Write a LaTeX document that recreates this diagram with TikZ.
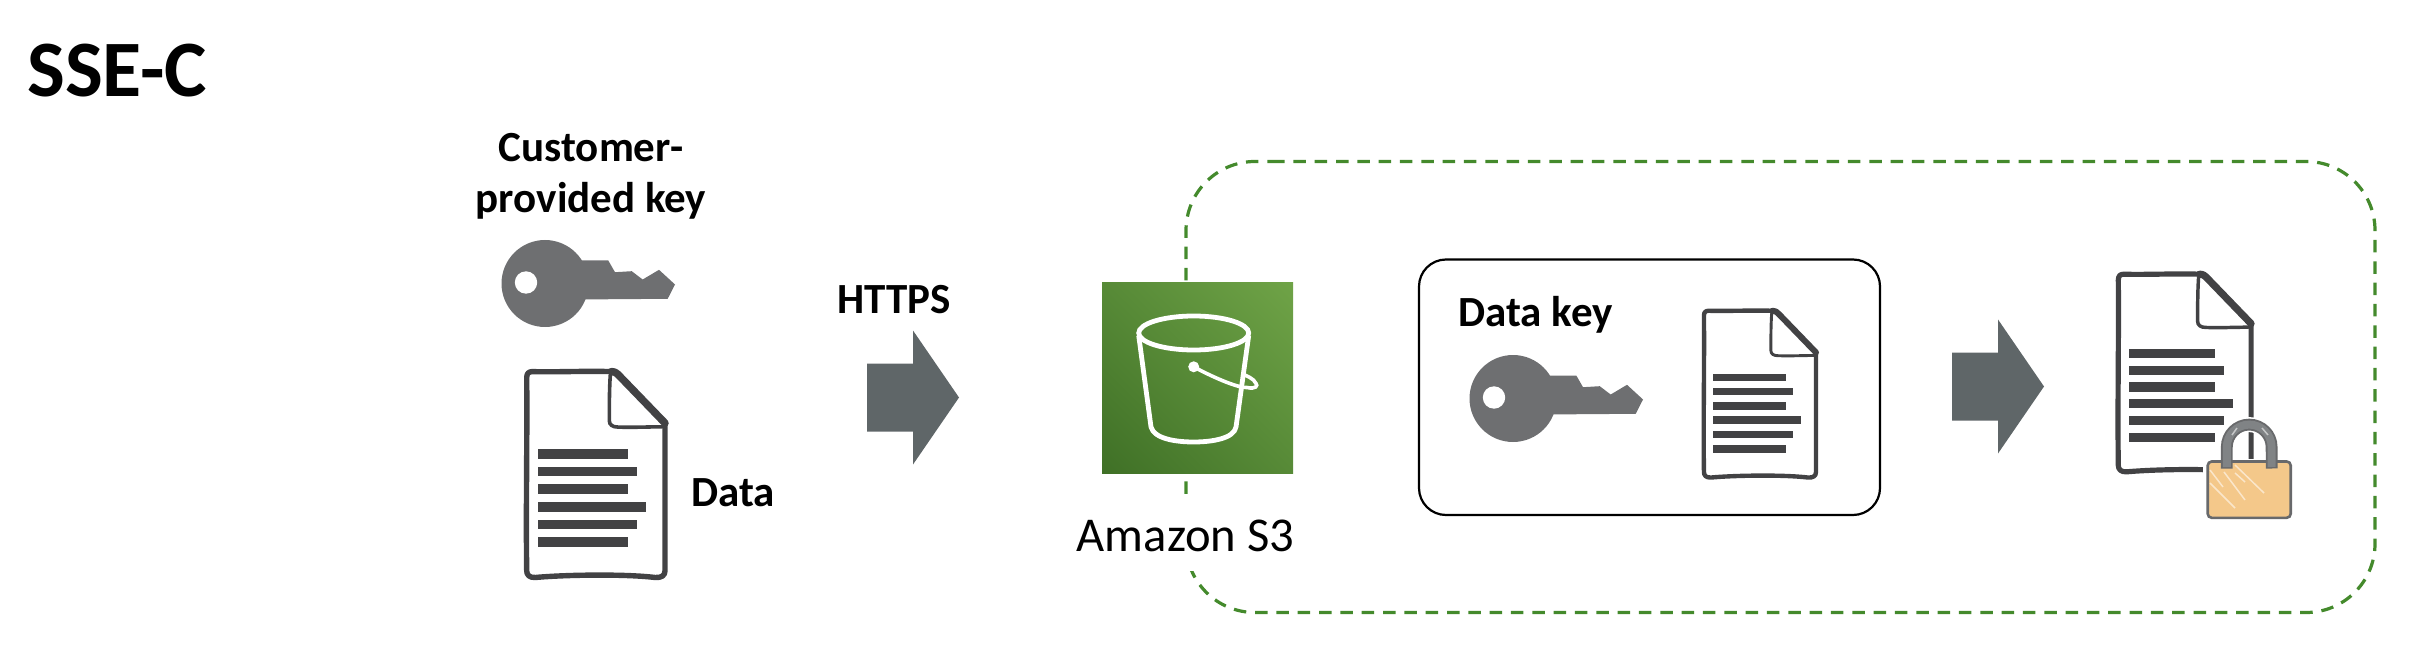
\documentclass[tikz,border=0pt]{standalone}
\usepackage{fontspec}
\usetikzlibrary{shadings}
\setmainfont{Carlito}
\definecolor{docgray}{HTML}{424244}
\definecolor{keygray}{HTML}{6E6F71}
\definecolor{arrowgray}{HTML}{5F6668}
\definecolor{dashgreen}{HTML}{448A2C}
\definecolor{bucketlow}{HTML}{3F7026}
\definecolor{bucketmid}{HTML}{578A37}
\definecolor{buckethigh}{HTML}{6FA347}
\definecolor{lockfill}{HTML}{F4C88A}
\definecolor{lockedge}{HTML}{68696B}
\definecolor{shackle}{HTML}{808385}
\tikzset{
  boldlabel/.style={font=\bfseries\fontsize{43}{51}\selectfont,inner sep=0pt,text=black,anchor=base west},
  flowarrow/.style={fill=arrowgray,draw=none},
  bar/.style={fill=docgray,draw=none},
  docline/.style={draw=docgray,line cap=round,line join=round}
}
\newcommand{\keyicon}[2]{%
  \begin{scope}[shift={(#1,#2)}]
    \fill[keygray] (0,0) circle [radius=43.5pt];
    \fill[keygray] (30,-23) -- (63.3,-23) -- (70,-11.3) -- (86.7,-12.3) -- (97.7,-4) -- (114,-13.7) -- (130,1) -- (122.7,15.3) -- (30,16) -- cycle;
    \fill[white] (-19,-1) circle [radius=11.2pt];
  \end{scope}}
\newcommand{\docicon}[3]{%
  \begin{scope}[shift={(#1,#2)},scale=#3]
    \pgfmathsetmacro{\lwa}{5.4*#3}\pgfmathsetmacro{\lwb}{7.5*#3}\pgfmathsetmacro{\lwc}{3.6*#3}
    \draw[docline,line width=\lwa pt] (87,2.8) .. controls (60,2) and (30,3.5) .. (8,2.8) .. controls (4,2.8) and (2.4,5) .. (2.4,9)
       .. controls (3,70) and (1.5,140) .. (2.4,202) .. controls (2.4,206) and (5,209) .. (11,208.7)
       .. controls (40,206) and (100,205) .. (131,208.7) .. controls (137,209) and (140.7,207) .. (140.7,202)
       -- (140.7,54.3);
    \draw[docline,line width=\lwb pt] (87,2.8) .. controls (91,3) and (92,4) .. (95,7) -- (140.7,54.3);
    \draw[docline,line width=\lwc pt] (86,6) .. controls (85,20) and (85,40) .. (85,51.7) .. controls (85,56) and (88,58.3) .. (94,58.3) .. controls (110,58.8) and (125,58) .. (138,58);
    \foreach \yy/\xx in {85/103.3,102.7/112.7,120.3/103.3,138/122,155.7/112.7,173.3/103.3}
      \fill[bar] (14,\yy-4.7) rectangle (\xx,\yy+4.7);
  \end{scope}}
\begin{document}
\begin{tikzpicture}[x=1pt,y=-1pt]
\useasboundingbox (0,0) rectangle (2420,660);
% dashed boundary
\draw[dashgreen,line width=3.2pt,dash pattern=on 12.5pt off 8.83pt,rounded corners=69pt]
  (1272,161.5) -- (2375,161.5) -- (2375,612.5) -- (1186,612.5) -- (1186,161.5) -- (1272,161.5);
% title and labels
\node[boldlabel,font=\bfseries\fontsize{80}{90}\selectfont] (title) at (27,96.5) {SSE-C};
\node[boldlabel,anchor=base] (cust1) at (591,162) {Customer-};
\node[boldlabel,anchor=base] (cust2) at (591,213) {provided key};
\node[boldlabel] (datalabel) at (691,506) {Data};
\node[boldlabel,anchor=base] (https) at (894,313) {HTTPS};
% first group
\keyicon{545}{283.5}
\docicon{524.3}{368.8}{1}
% arrows
\fill[flowarrow] (867,363.5) -- (913,363.5) -- (913,330.5) -- (959,397.5) -- (913,464.5) -- (913,431.5) -- (867,431.5) -- cycle;
\fill[flowarrow] (1952,352.5) -- (1998,352.5) -- (1998,319.5) -- (2044,386.5) -- (1998,453.5) -- (1998,420.5) -- (1952,420.5) -- cycle;
% S3 icon
\shade[lower left=bucketlow,upper right=buckethigh,upper left=bucketmid,lower right=bucketmid] (1102,282.5) rectangle (1293,473.5);
\draw[white,line width=4.8pt] (1193.7,333) ellipse [x radius=55pt,y radius=17pt];
\draw[white,line width=4.8pt,line join=round] (1138.7,335.5) -- (1151,427) .. controls (1154,438.5) and (1175,442) .. (1193.7,442) .. controls (1212,442) and (1234,438.5) .. (1236,427) -- (1248.7,335.5);
\fill[white] (1193.7,366.8) circle [radius=5.5pt];
\draw[white,line width=3.6pt] (1193.7,366.8) .. controls (1215,378.5) and (1240,388.5) .. (1247,387.5) .. controls (1256,389.5) and (1258,385.5) .. (1256,383.5) .. controls (1254,378.5) and (1246,375.5) .. (1242,374);
\fill[white] (1072,495) rectangle (1297,571);
\node[inner sep=0pt,anchor=base,font=\fontsize{48.6}{56}\selectfont] (s3label) at (1185.5,551) {Amazon S3};
% data key box
\draw[black,line width=2.2pt,rounded corners=27pt] (1419,259.5) rectangle (1880,515);
\node[boldlabel] (datakey) at (1458,326.5) {Data key};
\keyicon{1513}{398.5}
\docicon{1702}{308.5}{0.81}
% encrypted doc
\docicon{2116}{271.5}{0.96}
\fill[white] (2203,458.5) rectangle (2296,523);
\draw[white,line width=15pt] (2226.8,462.5) -- (2226.8,447) arc (180:0:22.4pt) -- (2271.7,462.5);
\draw[fill=lockfill,draw=lockedge,line width=2.6pt,rounded corners=4pt] (2207.7,461.5) rectangle (2290.7,517.8);
\draw[lockedge,line width=11.8pt] (2226.8,468.5) -- (2226.8,447) arc (180:0:22.4pt) -- (2271.7,468.5);
\draw[shackle,line width=8pt] (2226.8,467) -- (2226.8,447) arc (180:0:22.4pt) -- (2271.7,467);
\foreach \ax/\ay/\bx/\by in {2210/470/2223/487,2210/483/2235/508,2224/472/2245/500,2235/473/2245/482,2235/465/2264/493,2232/435/2237/428,2262/428/2268/435}
  \draw[white,opacity=.55,line width=1.5pt] (\ax,\ay) -- (\bx,\by);
\end{tikzpicture}
\end{document}
